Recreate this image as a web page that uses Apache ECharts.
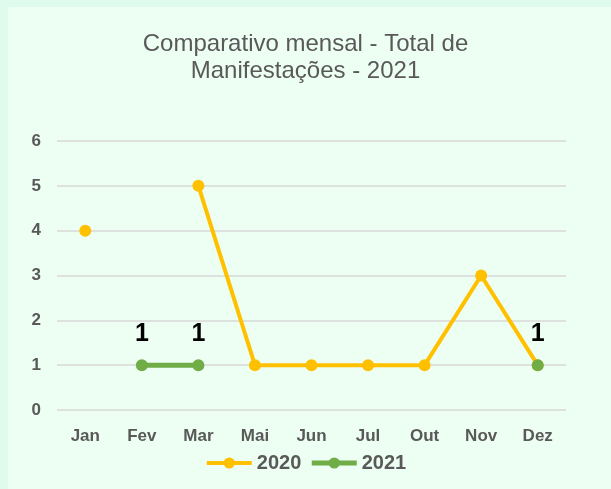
<!DOCTYPE html>
<html>
<head>
<meta charset="utf-8">
<script src="https://cdn.jsdelivr.net/npm/echarts@6/dist/echarts.min.js"></script>
<style>
  html, body { margin: 0; padding: 0; background: #dffbee; }
  #panel { position: absolute; left: 8px; top: 7px; width: 603px; height: 482px; background: #edfef3; }
  #chart { position: absolute; left: 0; top: 0; width: 611px; height: 489px; }
</style>
</head>
<body>
<div id="panel"></div>
<div id="chart"></div>
<script>
// dados
const meses = ['Jan', 'Fev', 'Mar', 'Mai', 'Jun', 'Jul', 'Out', 'Nov', 'Dez'];
const ano2020 = [4, null, 5, 1, 1, 1, 1, 3, 1];
const ano2021 = [null, 1, 1, null, null, null, null, null, 1];

const myChart = echarts.init(document.getElementById('chart'));
const labelFont = { color: '#595959', fontSize: 17, fontWeight: 'bold', fontFamily: 'Liberation Sans, Arial' };

const option = {
  backgroundColor: 'transparent',
  title: {
    text: 'Comparativo mensal - Total de\nManifestações - 2021',
    left: 'center',
    top: 26,
    textStyle: { color: '#595959', fontSize: 24, fontWeight: 'normal', fontFamily: 'Liberation Sans, Arial', lineHeight: 27 }
  },
  legend: {
    bottom: 11,
    left: 'center',
    itemWidth: 45,
    itemHeight: 14,
    itemGap: 8,
    textStyle: { color: '#595959', fontSize: 20, fontWeight: 'bold', fontFamily: 'Liberation Sans, Arial' },
    data: [
      { name: '2020', lineStyle: { width: 4 } },
      { name: '2021', lineStyle: { width: 5 } }
    ]
  },
  grid: { left: 57, right: 45, top: 141, bottom: 79 },
  xAxis: {
    type: 'category',
    data: meses,
    axisLine: { show: false },
    axisTick: { show: false },
    axisLabel: { ...labelFont, margin: 18 }
  },
  yAxis: {
    type: 'value',
    min: 0,
    max: 6,
    interval: 1,
    axisLine: { show: false },
    axisTick: { show: false },
    axisLabel: { ...labelFont, margin: 16 },
    splitLine: { lineStyle: { color: '#d9d9d9', width: 1.5 } }
  },
  series: [
    {
      name: '2020',
      type: 'line',
      data: ano2020,
      connectNulls: false,
      symbol: 'circle',
      symbolSize: 12,
      color: '#ffc000',
      lineStyle: { width: 4, color: '#ffc000' }
    },
    {
      name: '2021',
      type: 'line',
      data: ano2021,
      connectNulls: false,
      symbol: 'circle',
      symbolSize: 12,
      color: '#70ad47',
      lineStyle: { width: 5, color: '#70ad47' },
      label: {
        show: true,
        position: 'top',
        distance: 13,
        color: '#000',
        fontSize: 25,
        fontWeight: 'bold',
        fontFamily: 'Liberation Sans, Arial'
      }
    }
  ]
};

option && myChart.setOption(option);
</script>
</body>
</html>
